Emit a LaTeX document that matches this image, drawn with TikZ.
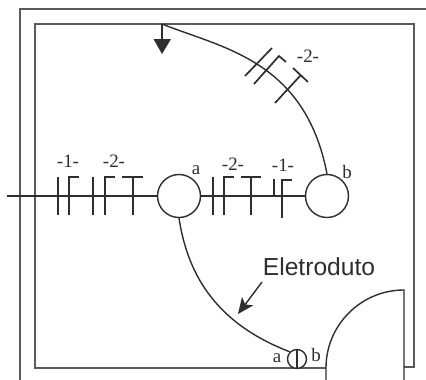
\documentclass[tikz,border=0pt]{standalone}
\usepackage{fontspec}
\setmainfont{Liberation Serif}
\newfontfamily\arialfont{Liberation Sans}
\usetikzlibrary{arrows.meta}
\definecolor{ink}{HTML}{2E2E2E}
\definecolor{wallc}{HTML}{5A5A5A}
\tikzset{
  wall/.style={draw=wallc,line width=1.8bp},
  wire/.style={draw=ink,line width=1.4bp},
  tick/.style={draw=ink,line width=1.7bp},
  box/.style={circle,draw=ink,line width=1.4bp,fill=white,inner sep=0pt,minimum size=#1},
  lab/.style={text=ink,font=\fontsize{19}{19}\selectfont,inner sep=0pt}
}
\begin{document}
\begin{tikzpicture}[x=1bp,y=-1bp]
\useasboundingbox (0,0) rectangle (426,380);
% outer and inner walls
\draw[wall] (426,9) -- (20,9) -- (20,380);
\draw[wall] (404,367) -- (414,367) -- (414,24) -- (35,24) -- (35,368) -- (326,368);
% door
\draw[wire] (326,380) -- (326,368) .. controls (326,325) and (361,290) .. (404,290) -- (404,380);
% wires
\coordinate (wstart) at (7,196);
\coordinate (drop) at (162,24);
\node[box=43bp] (a) at (179,196) {};
\node[box=43bp] (b) at (327,196) {};
\node[box=19bp] (sw) at (297,359) {};
\draw[wire] (wstart) -- (a);
\draw[wire] (a) -- (b);
\draw[wire] (drop) .. controls (222,48) and (305,60) .. (b.north);
\draw[wire] (a.south) .. controls (187,270) and (212,322) .. (sw.north west);
\draw[wire] (sw.north) -- (sw.south);
% lamp drop
\draw[wire] (drop) -- (162,40);
\fill[ink] (153.5,39) -- (171,39) -- (162,54) -- cycle;
% conductor ticks, left run
\draw[tick] (58,177) -- (58,215);
\draw[tick] (79,177) -- (69,177) -- (69,215);
\draw[tick] (93,177) -- (93,215);
\draw[tick] (115,177) -- (105,177) -- (105,215);
\draw[tick] (122,177) -- (143,177) (133,177) -- (133,215);
% conductor ticks, right run
\draw[tick] (213,177) -- (213,215);
\draw[tick] (234,177) -- (224,177) -- (224,215);
\draw[tick] (241,177) -- (261,177) (251,177) -- (251,215);
\draw[tick] (274,179) -- (274,196);
\draw[tick] (292,180) -- (282,180) -- (282,218);
% conductor ticks on the arc
\draw[tick] (245,76) -- (272,48);
\draw[tick] (254,84) -- (279,56) -- (286,62);
\draw[tick] (275,103) -- (300,76) (293,68) -- (308,82);
% arrow to the conduit
\node[text=ink,font=\arialfont\fontsize{24.7}{24.7}\selectfont,inner sep=0pt] (el) at (319,267) {Eletroduto};
\coordinate (at) at (238,314);
\coordinate (af) at (262,282);
\draw[draw=ink,line width=1.4bp,-{Stealth[length=16bp,width=14bp,inset=4bp]}] (af) -- (at);
% labels
\node[lab] (l1) at (68,161) {-1-};
\node[lab] (l2) at (114,161) {-2-};
\node[lab] (l3) at (233,164) {-2-};
\node[lab] (l4) at (283,165) {-1-};
\node[lab] (l5) at (308,56) {-2-};
\node[lab] (la) at (196,170) {a};
\node[lab] (lb) at (347,172) {b};
\node[lab] (lsa) at (277,358) {a};
\node[lab] (lsb) at (316,355) {b};
\end{tikzpicture}
\end{document}
